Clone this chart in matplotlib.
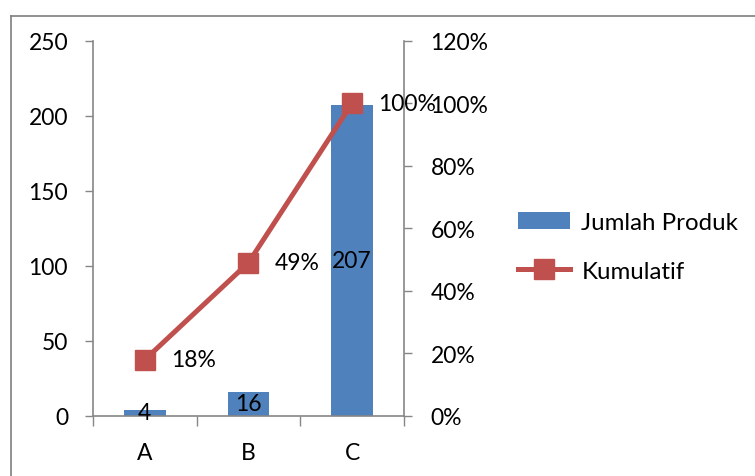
import matplotlib
matplotlib.use("Agg")
import matplotlib.pyplot as plt
from matplotlib.lines import Line2D
from matplotlib.ticker import FixedLocator, FuncFormatter

# Data
categories = ["A", "B", "C"]
jumlah_produk = [4, 16, 207]
kumulatif = [0.18, 0.49, 1.00]
kumulatif_labels = ["18%", "49%", "100%"]
left_ticks = [0, 50, 100, 150, 200, 250]
right_ticks = [0, 0.2, 0.4, 0.6, 0.8, 1.0, 1.2]

BLUE = "#4F81BD"
RED = "#C0504D"
AXIS_GREY = "#868686"
FONT = "Lato"
FS = 16.5

plt.rcParams["font.family"] = [FONT, "DejaVu Sans"]

fig = plt.figure(figsize=(7.55, 4.77), dpi=100)
W, H = 755, 477

def fx(px):
    return px / W

def fy(py):
    return 1 - py / H

# Chart-area border (top and left edges)
fig.add_artist(Line2D([fx(10.5), 1.0], [fy(16.5), fy(16.5)], color="#7f7f7f", lw=1.2, transform=fig.transFigure))
fig.add_artist(Line2D([fx(10.5), fx(10.5)], [fy(16.5), 0.0], color="#7f7f7f", lw=1.2, transform=fig.transFigure))

ax = fig.add_axes([fx(93), fy(417), fx(404) - fx(93), fy(41.5) - fy(417)])
x = list(range(len(categories)))

bars = ax.bar(x, jumlah_produk, width=0.4, color=BLUE, label="Jumlah Produk", zorder=2)
ax.set_xlim(-0.5, 2.5)
ax.set_ylim(0, 250)
ax.set_yticks(left_ticks)
ax.set_xticks(x)
ax.set_xticklabels(categories)
ax.xaxis.set_minor_locator(FixedLocator([-0.5, 0.5, 1.5, 2.5]))
ax.tick_params(axis="x", which="major", length=0, pad=19, labelsize=FS)
ax.tick_params(axis="x", which="minor", length=7.5, width=1, color=AXIS_GREY, direction="out")
ax.tick_params(axis="y", length=6, width=1, color=AXIS_GREY, pad=12, labelsize=FS)

for side in ("top", "right"):
    ax.spines[side].set_visible(False)
for side in ("left", "bottom"):
    ax.spines[side].set_color(AXIS_GREY)
    ax.spines[side].set_linewidth(1.2)

for rect, val in zip(bars, jumlah_produk):
    ax.text(rect.get_x() + rect.get_width() / 2, val / 2, str(val),
            ha="center", va="center", fontsize=FS, color="black", zorder=3)

ax2 = ax.twinx()
ax2.set_ylim(0, 1.2)
ax2.set_yticks(right_ticks)
ax2.yaxis.set_major_formatter(FuncFormatter(lambda v, p: f"{round(v * 100)}%"))
ax2.tick_params(axis="y", length=6, width=1, color=AXIS_GREY, pad=13, labelsize=FS)
for side in ("top", "left", "bottom"):
    ax2.spines[side].set_visible(False)
ax2.spines["right"].set_color(AXIS_GREY)
ax2.spines["right"].set_linewidth(1.2)

line, = ax2.plot(x, kumulatif, color=RED, lw=3.6, marker="s", markersize=14,
                 markerfacecolor=RED, markeredgecolor=RED, label="Kumulatif", zorder=4)
for xi, yi, lab in zip(x, kumulatif, kumulatif_labels):
    ax2.annotate(lab, (xi, yi), xytext=(19, 0), textcoords="offset points",
                 ha="left", va="center", fontsize=FS, color="black")

fig.legend([bars, line], ["Jumlah Produk", "Kumulatif"], loc="center left",
           bbox_to_anchor=(fx(508), fy(248)), bbox_transform=fig.transFigure,
           frameon=False, prop={"size": 17.3}, handlelength=2.2, handletextpad=0.45,
           labelspacing=1.15, borderaxespad=0)

fig.savefig("out.png", dpi=100)
